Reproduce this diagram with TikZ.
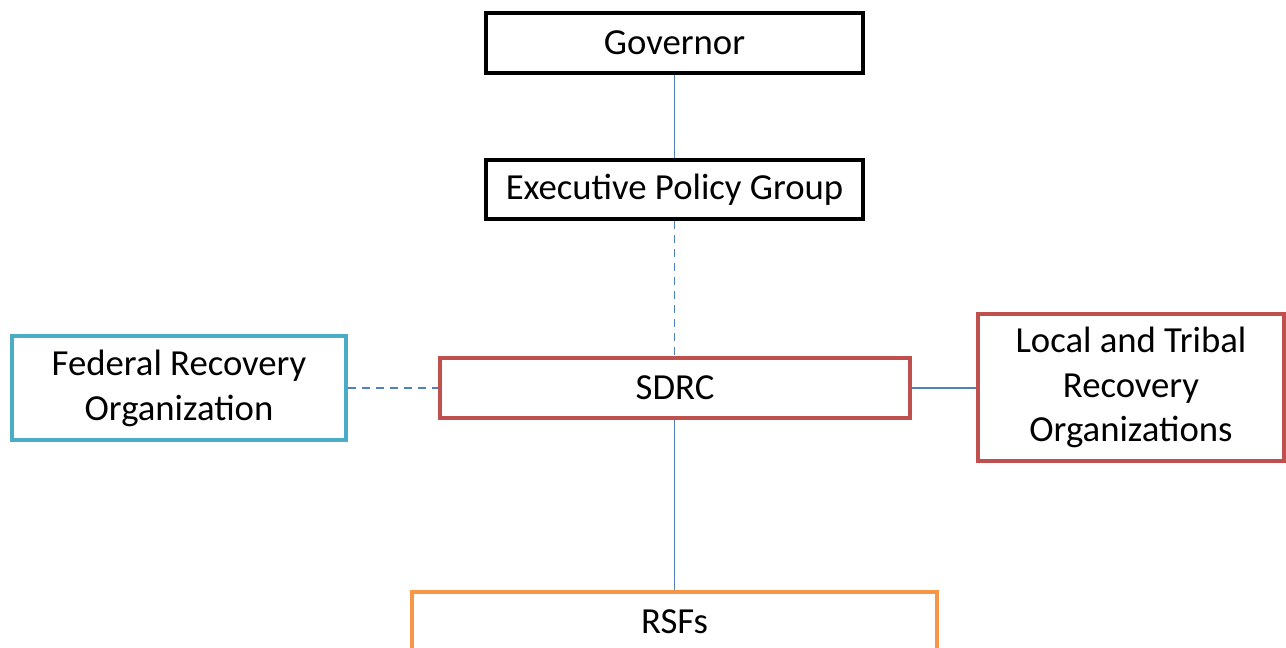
\documentclass[tikz,border=0pt]{standalone}
\usepackage{fontspec}
\setmainfont{Carlito}
\usepackage{xcolor}
\usetikzlibrary{calc,positioning}
\definecolor{linkblue}{HTML}{4F81BD}
\definecolor{boxred}{HTML}{C0504D}
\definecolor{boxteal}{HTML}{4BACC6}
\definecolor{boxorange}{HTML}{F79646}
\tikzset{%
	unit/.style     = {draw, rectangle, line width=2pt, inner sep=0pt, align=center, text centered, font=\fontsize{20.9}{25.5}\selectfont},
	link/.style     = {draw=linkblue, line width=1pt},
	dashlink/.style = {link, dash pattern=on 4.5pt off 3.5pt},
}
\begin{document}
\begin{tikzpicture}[x=0.02cm,y=-0.02cm]
		\clip (0,0) rectangle (1286,647);  % page frame
		\node[unit, draw=black, minimum width=7.54cm, minimum height=1.2cm] (gov) at (674.5,43) {Governor};
		\node[unit, draw=black, minimum width=7.54cm, minimum height=1.18cm] (epg) at (674.5,189.5) {Executive Policy Group};
		\node[unit, draw=boxred, minimum width=9.4cm, minimum height=1.2cm] (sdrc) at (675,388) {SDRC};
		\node[unit, draw=boxteal, minimum width=6.68cm, minimum height=2.08cm] (fed) at (179,388) {Federal Recovery\\Organization};
		\node[unit, draw=boxred, minimum width=6.12cm, minimum height=2.94cm] (local) at (1131,387.5) {Local and Tribal\\Recovery\\Organizations};
		\node[unit, draw=boxorange, minimum width=10.5cm, minimum height=1.2cm] (rsf) at (674.5,622) {RSFs};
		\draw[link] (gov.south) -- (epg.north);
		\draw[dashlink] (epg.south) -- (epg.south |- sdrc.north);
		\draw[dashlink] (fed.east) -- (fed.east -| sdrc.west);
		\draw[link] (sdrc.east) -- (sdrc.east -| local.west);
		\draw[link] (sdrc.south -| rsf.north) -- (rsf.north);
		\end{tikzpicture}
\end{document}
